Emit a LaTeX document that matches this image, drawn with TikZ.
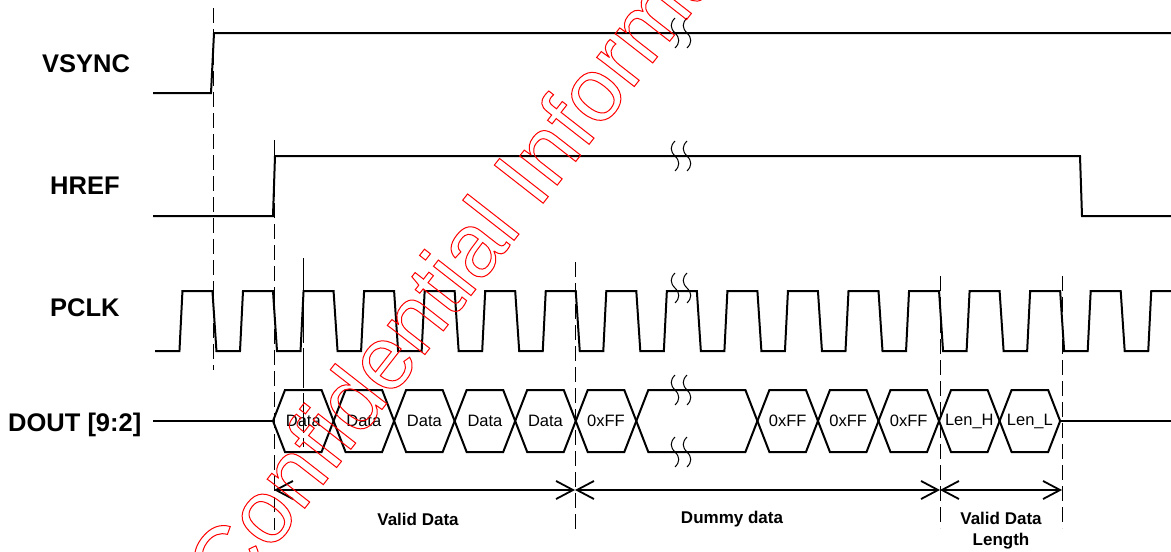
\documentclass[tikz,border=0pt]{standalone}
\usepackage{fontspec}
\setmainfont{Liberation Sans}
\usetikzlibrary{arrows.meta}
\newcommand\outlinetext[1]{\special{pdf:literal direct 1 Tr 1 w}#1\special{pdf:literal direct 0 Tr}}
\begin{document}
\begin{tikzpicture}[x=1pt,y=-1pt,
  wave/.style={line width=2pt, line join=miter},
  guide/.style={line width=1pt, dash pattern=on 15pt off 6pt},
  dimline/.style={line width=1.8pt, {Straight Barb[length=17pt,width=18pt,line width=1.8pt]}-{Straight Barb[length=17pt,width=18pt,line width=1.8pt]}},
  sig/.style={font=\bfseries\fontsize{25.5}{26}\selectfont, anchor=base west, inner sep=0pt},
  bustext/.style={font=\fontsize{16.5}{18}\selectfont, inner sep=0pt},
  dimcap/.style={font=\bfseries\fontsize{17}{21}\selectfont, align=center, inner sep=0pt},
  brkmark/.pic={\draw[line width=1pt] (0,-15) .. controls (-5,-10) and (-5,-5) .. (0,0) .. controls (5,5) and (5,10) .. (0,15);},
]
\useasboundingbox (0,0) rectangle (1171,552);
\fill[white] (0,0) rectangle (1171,552);

% signal names
\node[sig] (lv) at (42,72) {VSYNC};
\node[sig] (lh) at (50,194) {HREF};
\node[sig] (lp) at (50,316) {PCLK};
\node[sig] (ld) at (8,431) {DOUT [9:2]};

% guide lines
\coordinate (g1a) at (213,8);   \coordinate (g1b) at (213,370);
\coordinate (g2a) at (274,140); \coordinate (g2b) at (274,530);
\coordinate (g3a) at (303,258); \coordinate (g3b) at (303,447);
\coordinate (g4a) at (575,262); \coordinate (g4b) at (575,530);
\coordinate (g5a) at (940,276); \coordinate (g5b) at (940,528);
\coordinate (g6a) at (1062,276); \coordinate (g6b) at (1062,528);
\draw[guide] (g1a) -- (g1b);
\draw[guide] (g2a) -- (g2b);
\draw[guide, dash pattern=on 40pt off 5pt] (g3a) -- (g3b);
\draw[guide] (g4a) -- (g4b);
\draw[guide] (g5a) -- (g5b);
\draw[guide] (g6a) -- (g6b);

% VSYNC
\draw[wave] (153,93) -- (211,93) -- (214,33) -- (1171,33);
% HREF
\draw[wave] (153,216) -- (273,216) -- (275,156) -- (1080,156) -- (1082,216) -- (1171,216);
% PCLK
\draw[wave] (155,351)
  foreach \k in {0,...,15} {
    -- ({212.45+60.55*\k-33},351) -- ({212.45+60.55*\k-30},291)
    -- ({212.45+60.55*\k},291) -- ({212.45+60.55*\k+4},351) }
  -- (1148.25,351) -- (1151.25,291) -- (1171,291);

% DOUT bus
\draw[wave] (153,421) -- (273,421);
\draw[wave] (1060.15,421) -- (1171,421);
\foreach \a/\b/\t in {1/2/Data,2/3/Data,3/4/Data,4/5/Data,5/6/Data,6/7/0xFF,7/9/,9/10/0xFF,10/11/0xFF,11/12/0xFF,12/13/Len\_H,13/14/Len\_L}{
  \pgfmathsetmacro{\xa}{212.45+60.55*\a}
  \pgfmathsetmacro{\xb}{212.45+60.55*\b}
  \draw[wave] (\xa,421) -- (\xa+12,390) -- (\xb-12,390) -- (\xb,421) -- (\xb-12,452) -- (\xa+12,452) -- cycle;
  \node[bustext] (d\a) at ({(\xa+\xb)/2},421) {\t};
}

% break marks
\foreach \y in {33,156,288,390,452}{
  \pic at (675,\y) {brkmark};
  \pic at (687,\y) {brkmark};
}

% dimension arrows
\coordinate (m1) at (274,490);
\coordinate (m2) at (575,490);
\coordinate (m3) at (940,490);
\coordinate (m4) at (1062,490);
\draw[dimline] (m1) -- (m2);
\draw[dimline] (m2) -- (m3);
\draw[dimline] (m3) -- (m4);
\node[dimcap] (c1) at (418,519) {Valid Data};
\node[dimcap] (c2) at (732,519) {Dummy data};
\node[dimcap] (c3) at (1001,531) {Valid Data\\Length};

% watermark
\node[anchor=base west, inner sep=0pt, rotate=52, text=red, font=\fontsize{90}{90}\selectfont] (wm) at (230,604)
  {\outlinetext{Confidential Information}};
\end{tikzpicture}
\end{document}
